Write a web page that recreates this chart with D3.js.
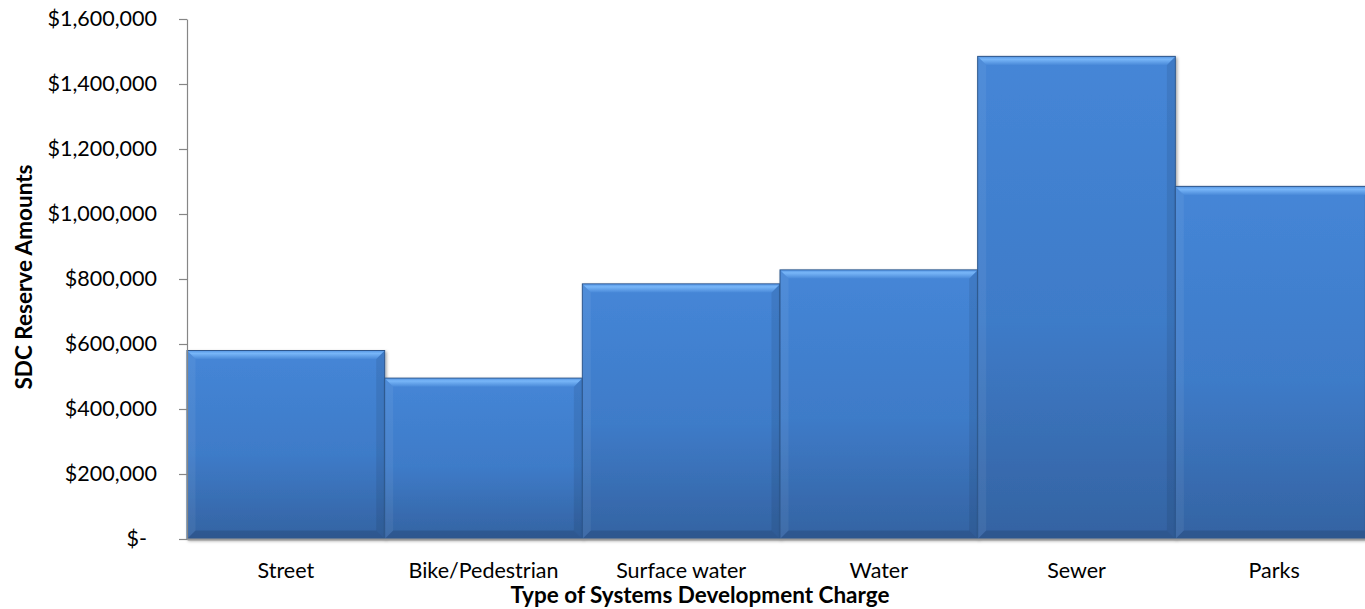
<!DOCTYPE html>
<html><head><meta charset="utf-8">
<script src="https://cdn.jsdelivr.net/npm/d3@7"></script>
<style>
body{margin:0;background:#fff;}
svg{display:block;}
text{font-family:Lato,"Open Sans",sans-serif;}
</style>
</head><body>
<svg id="chart" width="1365" height="609"></svg>
<script>
const categories = ["Street","Bike/Pedestrian","Surface water","Water","Sewer","Parks"];
const values = [580000,495000,785000,828000,1485000,1085000];
const yTicks = [0,200000,400000,600000,800000,1000000,1200000,1400000,1600000];
const yTitle = "SDC Reserve Amounts";
const xTitle = "Type of Systems Development Charge";

const svg = d3.select("#chart");
const x = d3.scaleBand().domain(categories).range([187,1373]).padding(0);
const y = d3.scaleLinear().domain([0,1600000]).range([539,19]);

const defs = svg.append("defs");
const g1 = defs.append("linearGradient").attr("id","barFill").attr("x1",0).attr("y1",0).attr("x2",0).attr("y2",1);
g1.append("stop").attr("offset","0%").attr("stop-color","#4586d7");
g1.append("stop").attr("offset","55%").attr("stop-color","#3e7bc8");
g1.append("stop").attr("offset","100%").attr("stop-color","#3463a2");
const g2 = defs.append("linearGradient").attr("id","topBevel").attr("x1",0).attr("y1",0).attr("x2",0).attr("y2",1);
g2.append("stop").attr("offset","0%").attr("stop-color","#5a9ae6");
g2.append("stop").attr("offset","30%").attr("stop-color","#78b6f8");
g2.append("stop").attr("offset","100%").attr("stop-color","#4a8ad9");
const f = defs.append("filter").attr("id","shadow").attr("x","-5%").attr("y","-5%").attr("width","110%").attr("height","110%");
f.append("feDropShadow").attr("dx",1.5).attr("dy",1.5).attr("stdDeviation",1.5).attr("flood-color","#000").attr("flood-opacity",0.35);

const bars = svg.append("g").selectAll("g.bar").data(categories.map((c,i)=>({c,v:values[i]})))
  .join("g").attr("class","bar");

bars.append("rect")
  .attr("x",d=>x(d.c)).attr("y",d=>y(d.v))
  .attr("width",x.bandwidth()).attr("height",d=>y(0)-y(d.v))
  .attr("fill","url(#barFill)")
  .attr("stroke","#2d578c").attr("stroke-width",1)
  .attr("filter","url(#shadow)");

const b = 8;
function pts(arr){return arr.map(p=>p.join(",")).join(" ");}
bars.each(function(d){
  const x0 = x(d.c)+0.5, x1 = x(d.c)+x.bandwidth()-0.5, yt = y(d.v)+0.5, yb = y(0)-0.5;
  const gg = d3.select(this);
  gg.append("polygon").attr("points",pts([[x0,yt],[x0+b,yt+b],[x0+b,yb-b],[x0,yb]]))
    .attr("fill","#ffffff").attr("fill-opacity",0.06);
  gg.append("polygon").attr("points",pts([[x1,yt],[x1,yb],[x1-b,yb-b],[x1-b,yt+b]]))
    .attr("fill","#000000").attr("fill-opacity",0.08);
  gg.append("polygon").attr("points",pts([[x0,yb],[x0+b,yb-b],[x1-b,yb-b],[x1,yb]]))
    .attr("fill","#000000").attr("fill-opacity",0.12);
  gg.append("polygon").attr("points",pts([[x0,yt],[x1,yt],[x1-b,yt+b],[x0+b,yt+b]]))
    .attr("fill","url(#topBevel)");
});

// Y axis
const yAxis = svg.append("g").attr("transform","translate(187,0)")
  .call(d3.axisLeft(y).tickValues(yTicks).tickSize(8).tickSizeOuter(0).tickPadding(22)
    .tickFormat(v => v===0 ? "$-" : "$" + d3.format(",")(v)));
yAxis.select(".domain").attr("stroke","#868686").attr("stroke-width",1.2);
yAxis.selectAll(".tick line").attr("stroke","#868686").attr("stroke-width",1.2);
yAxis.selectAll(".tick text").attr("font-size",21.5).attr("fill","#000")
  .attr("font-family","Lato,'Open Sans',sans-serif")
  .attr("dx",v=>v===0?-10:0);

// X axis
const xAxis = svg.append("g").attr("transform","translate(0,539)")
  .call(d3.axisBottom(x).tickSize(0).tickSizeOuter(0).tickPadding(24));
xAxis.select(".domain").attr("stroke","#9a9a9a").attr("stroke-width",2);
xAxis.selectAll(".tick text").attr("font-size",21.5).attr("fill","#000")
  .attr("font-family","Lato,'Open Sans',sans-serif");

// Titles
svg.append("text").attr("x",700).attr("y",603).attr("text-anchor","middle")
  .attr("font-size",22.5).attr("font-weight","bold").attr("fill","#000").text(xTitle);
svg.append("text").attr("transform","translate(32,277) rotate(-90)").attr("text-anchor","middle")
  .attr("font-size",22.5).attr("font-weight","bold").attr("fill","#000").text(yTitle);
</script>
</body></html>
